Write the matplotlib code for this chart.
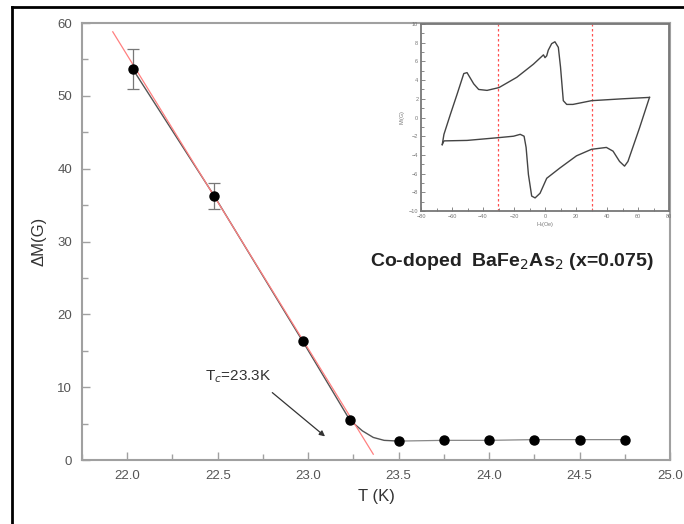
import matplotlib
matplotlib.use("Agg")
import matplotlib.pyplot as plt
from matplotlib.lines import Line2D
from matplotlib.ticker import MultipleLocator

plt.rcParams['font.family'] = ['Liberation Sans', 'DejaVu Sans']

# main data: Delta M vs T
T = [22.03, 22.48, 22.97, 23.23, 23.50, 23.75, 24.00, 24.25, 24.50, 24.75]
dM = [53.7, 36.3, 16.3, 5.5, 2.6, 2.7, 2.7, 2.8, 2.8, 2.8]
dM_err = [2.8, 1.8, 0.0, 0.0, 0.0, 0.0, 0.0, 0.0, 0.0, 0.0]

# smooth guide through the transition
guide_T = [22.03, 22.48, 22.97, 23.23, 23.30, 23.36, 23.42, 23.50]
guide_M = [53.7, 36.3, 16.3, 5.5, 4.0, 3.1, 2.7, 2.6]

# linear fit used for Tc
fit_T = [21.92, 23.36]
fit_M = [58.8, 0.8]

# inset: M-H loop
H_up = [67.4, 50.0, 30.0, 18.0, 14.0, 11.8, 10.0, 8.6, 6.4, 4.3, 2.1, 1.1, 0.0, -1.0, -7.5,
        -18.2, -29.7, -37.4, -42.8, -46.0, -50.3, -52.4, -56.7, -61.0, -65.2, -66.3]
M_up = [2.15, 2.0, 1.8, 1.4, 1.4, 1.8, 5.4, 7.5, 8.1, 7.9, 7.2, 6.6, 6.4, 6.7, 5.7,
        4.3, 3.2, 2.9, 3.0, 3.6, 4.8, 4.7, 2.5, 0.36, -1.8, -2.9]
H_dn = [-66.3, -65.2, -50.3, -29.7, -20.3, -16.0, -13.5, -12.2, -10.7, -8.6, -6.4, -3.2, 1.1,
        9.6, 20.3, 30.0, 39.6, 43.9, 48.1, 51.3, 53.5, 61.0, 67.4]
M_dn = [-2.9, -2.5, -2.45, -2.15, -2.0, -1.8, -2.0, -3.2, -6.1, -8.4, -8.6, -8.1, -6.5,
        -5.4, -4.1, -3.4, -3.2, -3.6, -4.7, -5.2, -4.7, -1.1, 2.15]
H_marks = [-30.2, 30.2]

spine_col = '#a0a0a0'
tick_col = '#555555'

fig = plt.figure(figsize=(6.84, 5.24), dpi=100)
ax = fig.add_axes([0.1199, 0.1221, 0.8596, 0.8339])

ax.plot(fit_T, fit_M, color='#ff8080', lw=0.9, zorder=2)
ax.plot(guide_T, guide_M, color='#555555', lw=1.0, zorder=1)
ax.plot(T[4:], dM[4:], color='#888888', lw=0.9, zorder=1)
ax.errorbar(T[:2], dM[:2], yerr=dM_err[:2], fmt='none', ecolor='#777777',
            elinewidth=0.9, capsize=4, capthick=0.9, zorder=2)
ax.plot(T, dM, 'o', color='black', ms=6.5, zorder=3)

ax.set_xlim(21.75, 25.0)
ax.set_ylim(0, 60)
ax.xaxis.set_major_locator(MultipleLocator(0.5))
ax.xaxis.set_minor_locator(MultipleLocator(0.25))
ax.yaxis.set_major_locator(MultipleLocator(10))
ax.yaxis.set_minor_locator(MultipleLocator(5))
ax.tick_params(which='both', direction='in', color=spine_col, width=1.0,
               labelcolor=tick_col, labelsize=9.5, pad=7)
ax.tick_params(which='major', length=6)
ax.tick_params(which='minor', length=4)
for s in ax.spines.values():
    s.set_color(spine_col)
    s.set_linewidth(1.5)
ax.set_xlabel('T (K)', fontsize=12, color='#333333', labelpad=5)
ax.set_ylabel('ΔM(G)', fontsize=12, color='#333333', labelpad=8)

ax.text(23.34, 27.2, 'Co-doped  BaFe$_2$As$_2$ (x=0.075)', fontsize=14,
        fontweight='bold', color='#222222', va='center')
ax.text(22.43, 11.4, 'T$_c$=23.3K', fontsize=11, color='#333333', va='center')
ax.annotate('', xy=(23.105, 3.0), xytext=(22.79, 9.5),
            arrowprops=dict(arrowstyle='-|>', color='#333333', lw=0.9,
                            mutation_scale=8))

# inset
ins = fig.add_axes([0.6155, 0.5973, 0.3626, 0.3569])
for h in H_marks:
    ins.plot([h, h], [-10, 10], color='#ff5050', lw=0.9, ls=(0, (2, 2)),
             solid_capstyle='butt', dash_capstyle='butt')
ins.plot(H_up, M_up, color='#444444', lw=1.0)
ins.plot(H_dn, M_dn, color='#444444', lw=1.0)
ins.set_xlim(-80, 80)
ins.set_ylim(-10, 10)
ins.xaxis.set_major_locator(MultipleLocator(20))
ins.xaxis.set_minor_locator(MultipleLocator(10))
ins.yaxis.set_major_locator(MultipleLocator(2))
ins.yaxis.set_minor_locator(MultipleLocator(1))
ins.tick_params(which='both', direction='in', color='#888888', width=0.7,
                labelcolor='#777777', labelsize=4, pad=2)
ins.tick_params(which='major', length=3)
ins.tick_params(which='minor', length=2)
for s in ins.spines.values():
    s.set_color('#777777')
    s.set_linewidth(1.3)
ins.set_xlabel('H$_i$(Oe)', fontsize=4, color='#777777', labelpad=1)
ins.set_ylabel('M$_i$(G)', fontsize=4, color='#777777', labelpad=1)

# black frame lines at top and left of the figure
fig.add_artist(Line2D([12 / 684, 1.0], [1 - 7 / 524, 1 - 7 / 524], color='black', lw=2))
fig.add_artist(Line2D([12 / 684, 12 / 684], [0.0, 1 - 7 / 524], color='black', lw=2))

fig.savefig('out.png', dpi=100)
